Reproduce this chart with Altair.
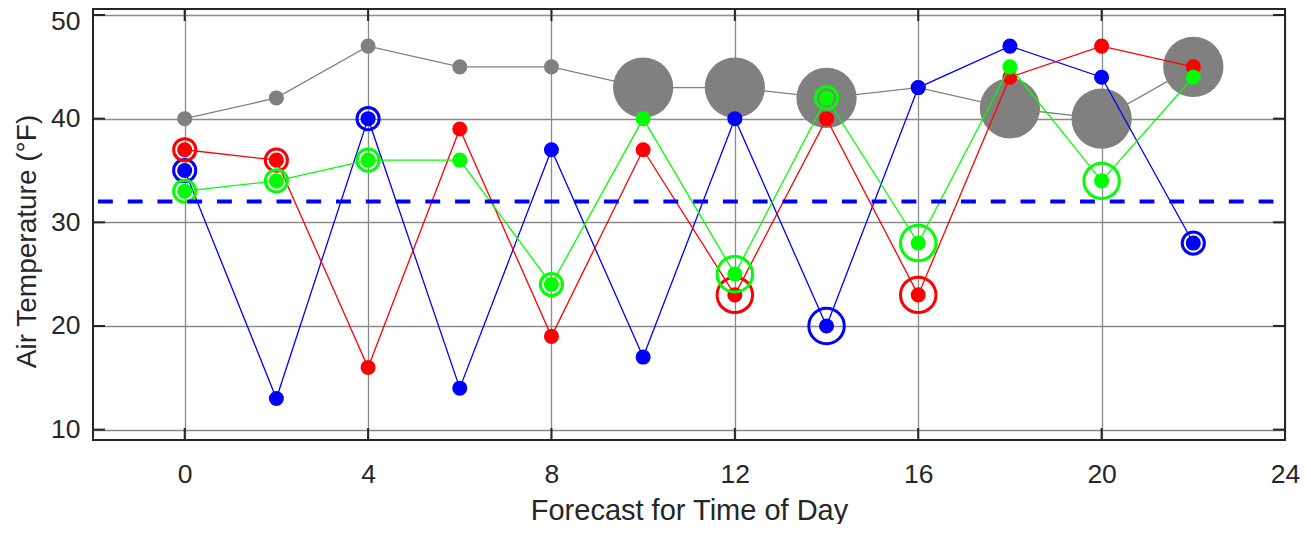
import altair as alt
import pandas as pd

# ---- data ----
hours = [0, 2, 4, 6, 8, 10, 12, 14, 16, 18, 20, 22]
gray_temp = [40, 42, 47, 45, 45, 43, 43, 42, 43, 41, 40, 45]
gray_big = [0, 0, 0, 0, 0, 1, 1, 1, 0, 1, 1, 1]
blue_temp = [35, 13, 40, 14, 37, 17, 40, 20, 43, 47, 44, 28]
blue_ring = [1, 0, 1, 0, 0, 0, 0, 2, 0, 0, 0, 1]
red_temp = [37, 36, 16, 39, 19, 37, 23, 40, 23, 44, 47, 45]
red_ring = [1, 1, 0, 0, 0, 0, 2, 0, 2, 0, 0, 0]
green_temp = [33, 34, 36, 36, 24, 40, 25, 42, 28, 45, 34, 44]
green_ring = [1, 1, 1, 0, 1, 0, 2, 1, 2, 0, 2, 0]
freezing = [32]
x_ticks = [0, 4, 8, 12, 16, 20, 24]
y_ticks = [10, 20, 30, 40, 50]

W, H = 1192, 431
TXT = "#262626"
FONT = "Liberation Sans"

xs = alt.Scale(domain=[-2, 24], nice=False, zero=False)
ys = alt.Scale(domain=[9, 50.58], nice=False, zero=False)

x_axis = alt.Axis(values=x_ticks, title="Forecast for Time of Day", grid=True,
                  gridColor="#8a8a8a", gridWidth=1.3, domain=False, ticks=False, tickSize=0,
                  labelFont=FONT, labelFontSize=26.5, labelColor=TXT,
                  labelBaseline="alphabetic", labelPadding=42, labelFlush=False,
                  titleFont=FONT, titleFontSize=29, titleFontWeight="normal", titleColor=TXT,
                  titleBaseline="alphabetic", titleY=79)
y_axis = alt.Axis(values=y_ticks, title="Air Temperature (°F)", grid=True,
                  gridColor="#8a8a8a", gridWidth=1.3, domain=False, ticks=False, tickSize=0,
                  labelFont=FONT, labelFontSize=26.5, labelColor=TXT, labelPadding=13,
                  labelFlush=False,
                  labelOffset=alt.condition("datum.value == 50", alt.value(6), alt.value(0)),
                  titleFont=FONT, titleFontSize=28, titleFontWeight="normal", titleColor=TXT,
                  titleBaseline="alphabetic", titleX=-58, titleY=232)

X = alt.X("hour:Q", scale=xs, axis=x_axis)
Y = alt.Y("temp:Q", scale=ys, axis=y_axis)

def frame(vals, rings):
    return pd.DataFrame({"hour": hours, "temp": vals, "ring": rings})

layers = []

# gray series
g = frame(gray_temp, gray_big)
layers.append(alt.Chart(g).mark_line(color="#808080", strokeWidth=1.3).encode(x=X, y=Y))
layers.append(alt.Chart(g).mark_circle(color="#808080", opacity=1, size=227).encode(x=X, y=Y))
layers.append(alt.Chart(g).transform_filter("datum.ring == 1")
              .mark_circle(color="#808080", opacity=1, size=3632).encode(x=X, y=Y))

for vals, rings, col in [(blue_temp, blue_ring, "#0000ff"),
                         (red_temp, red_ring, "#ff0000"),
                         (green_temp, green_ring, "#00ff00")]:
    d = frame(vals, rings)
    layers.append(alt.Chart(d).mark_line(color=col, strokeWidth=1.3).encode(x=X, y=Y))
    layers.append(alt.Chart(d).mark_circle(color=col, opacity=1, size=227).encode(x=X, y=Y))
    layers.append(alt.Chart(d).transform_filter("datum.ring > 0")
                  .mark_point(shape="circle", filled=False, color=col, strokeWidth=3, opacity=1)
                  .encode(x=X, y=Y,
                          size=alt.Size("ring:O", scale=alt.Scale(domain=[1, 2], range=[491, 1257]),
                                        legend=None)))

# freezing line
fz = pd.DataFrame({"temp": freezing, "hour": [-2], "hour2": [24]})
layers.append(alt.Chart(fz).mark_rule(color="#0000ff", strokeWidth=4,
                                      strokeDash=[14.88, 14.88], strokeDashOffset=24.8)
              .encode(y=Y, x=X, x2="hour2:Q"))

# inward ticks
xt = pd.DataFrame({"hour": x_ticks})
yt = pd.DataFrame({"temp": y_ticks})
layers.append(alt.Chart(xt).mark_rule(color=TXT, strokeWidth=2)
              .encode(x=X, y=alt.value(H), y2=alt.value(H - 12)))
layers.append(alt.Chart(xt).mark_rule(color=TXT, strokeWidth=2)
              .encode(x=X, y=alt.value(0), y2=alt.value(12)))
layers.append(alt.Chart(yt).mark_rule(color=TXT, strokeWidth=2)
              .encode(y=Y, x=alt.value(0), x2=alt.value(12)))
layers.append(alt.Chart(yt).mark_rule(color=TXT, strokeWidth=2)
              .encode(y=Y, x=alt.value(W), x2=alt.value(W - 12)))

# frame
fr = pd.DataFrame({"f": [0]})
layers.append(alt.Chart(fr).mark_rect(filled=False, stroke=TXT, strokeWidth=2)
              .encode(x=alt.value(0), x2=alt.value(W), y=alt.value(0), y2=alt.value(H)))

chart = alt.layer(*layers).properties(
    width=W, height=H,
    autosize=alt.AutoSizeParams(type="none"),
    padding={"left": 85, "top": 1, "right": 18, "bottom": 84},
).configure_view(stroke="transparent")

chart.save("out.html", embed_options={"renderer": "svg", "actions": False})
